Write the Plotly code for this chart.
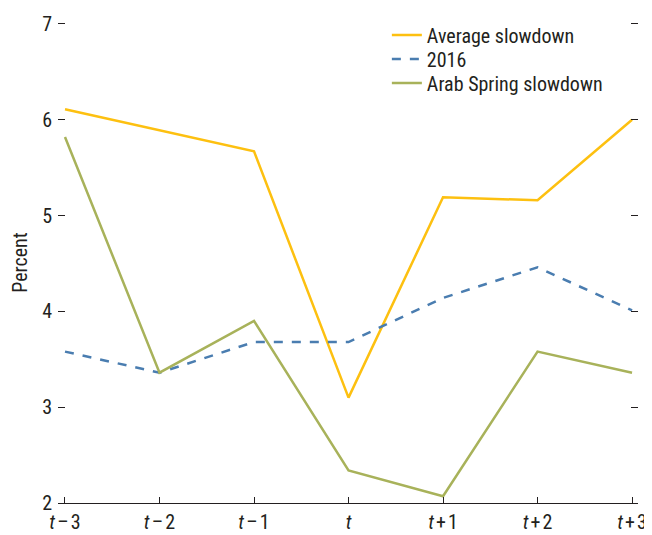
import plotly.graph_objects as go

categories = ["<i>t</i>\u200a\u2013\u200a3", "<i>t</i>\u200a\u2013\u200a2", "<i>t</i>\u200a\u2013\u200a1", "<i>t</i>",
              "<i>t</i>\u200a+\u200a1", "<i>t</i>\u200a+\u200a2", "<i>t</i>\u200a+\u200a3"]
average_slowdown = [6.11, 5.89, 5.67, 3.10, 5.19, 5.16, 6.00]
y2016 = [3.58, 3.36, 3.68, 3.68, 4.14, 4.46, 4.01]
arab_spring = [5.82, 3.36, 3.90, 2.34, 2.07, 3.58, 3.36]
y_ticks = [2, 3, 4, 5, 6, 7]

FONT = "Liberation Sans Narrow, Roboto Condensed, Arial Narrow, sans-serif"
x = list(range(len(categories)))

fig = go.Figure()
fig.add_trace(go.Scatter(x=x, y=average_slowdown, mode="lines", name="Average slowdown",
                         line=dict(color="#FDC010", width=2.5), legend="legend"))
fig.add_trace(go.Scatter(x=x, y=y2016, mode="lines", name="2016",
                         line=dict(color="#4A7DB0", width=2.5, dash="dash"), legend="legend2"))
fig.add_trace(go.Scatter(x=x, y=arab_spring, mode="lines", name="Arab Spring slowdown",
                         line=dict(color="#A8B25A", width=2.5), legend="legend3"))

leg = dict(x=0.567, xanchor="left", yanchor="top", bgcolor="rgba(0,0,0,0)", font=dict(size=20))

fig.update_layout(
    width=644, height=527,
    margin=dict(l=50, r=14, t=14, b=32, autoexpand=False),
    paper_bgcolor="white", plot_bgcolor="white",
    font=dict(family=FONT, size=20, color="#231F20"),
    showlegend=True,
    legend=dict(leg, y=1.0137),
    legend2=dict(leg, y=0.9637),
    legend3=dict(leg, y=0.9137),
    xaxis=dict(range=[-0.074, 6.063], tickmode="array", tickvals=x, ticktext=categories,
               showgrid=False, zeroline=False, showline=True, linecolor="#231F20", linewidth=1,
               ticks="inside", ticklen=6, tickcolor="#231F20", tickwidth=1,
               ticklabelstandoff=1, automargin=False),
    yaxis=dict(range=[2, 7.02], tickmode="array", tickvals=y_ticks,
               showgrid=False, zeroline=False, showline=False,
               ticks="inside", ticklen=7, tickcolor="#231F20", tickwidth=1, mirror="ticks",
               ticklabelstandoff=5, automargin=False,
               title=dict(text="Percent", standoff=16, font=dict(size=20))),
)

fig.write_html("out.html")
